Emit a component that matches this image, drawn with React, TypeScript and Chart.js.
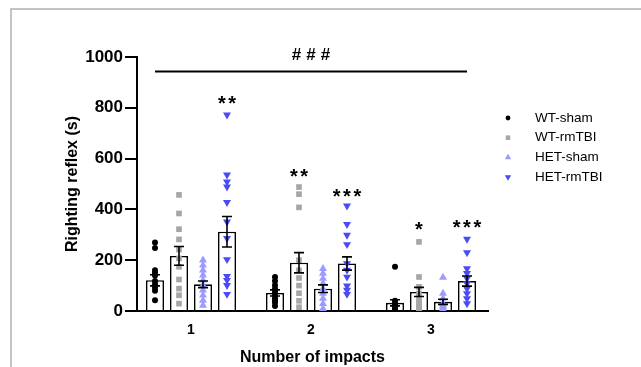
import React, { useEffect, useRef } from "react";
import { Chart, registerables } from "chart.js";

Chart.register(...registerables);

// ---------- data ----------
const groupLabels = [1, 2, 3];
const seriesNames = ["WT-sham", "WT-rmTBI", "HET-sham", "HET-rmTBI"];
const seriesColors = ["#000000", "#a6a6a6", "#9a9aff", "#4b4bf5"];

const wtShamMean = [121, 71, 32];
const wtRmMean = [217, 190, 75];
const hetShamMean = [105, 88, 36];
const hetRmMean = [312, 187, 118];

const wtShamSem = [22, 12, 12];
const wtRmSem = [37, 40, 18];
const hetShamSem = [13, 15, 10];
const hetRmSem = [60, 26, 20];

const wtShamPoints = [
  [270, 248, 160, 150, 140, 118, 105, 92, 80, 42],
  [134, 118, 101, 88, 75, 62, 50, 40, 33, 20],
  [174, 40, 30, 25, 18, 12, 6, 3],
];
const wtRmPoints = [
  [457, 384, 322, 282, 242, 207, 174, 124, 88, 62, 29],
  [488, 460, 408, 200, 160, 130, 100, 70, 40, 15],
  [272, 134, 95, 69, 50, 35, 29, 16, 8, 3],
];
const hetShamPoints = [
  [200, 180, 161, 141, 121, 101, 82, 62, 42, 22],
  [167, 148, 128, 108, 88, 69, 49, 29, 9],
  [132, 69, 49, 29, 22, 16, 10, 3],
];
const hetRmPoints = [
  [772, 536, 509, 489, 428, 351, 286, 203, 137, 121, 101, 66],
  [414, 341, 299, 262, 187, 161, 134, 99, 82, 66],
  [283, 230, 167, 148, 128, 108, 88, 69, 49, 29],
];

const yTicks = [0, 200, 400, 600, 800, 1000];

// significance annotations: group index, series index, text, value (ink centre)
const sigGroups = [0, 1, 1, 2, 2];
const sigSeries = [3, 1, 3, 1, 3];
const sigTexts = ["**", "**", "***", "*", "***"];
const sigValues = [838, 549, 472, 339, 347];

const hashText = "###";
const hashValue = 1011;
const hashLineValue = 943;

// ---------- helpers ----------
const means = [wtShamMean, wtRmMean, hetShamMean, hetRmMean];
const sems = [wtShamSem, wtRmSem, hetShamSem, hetRmSem];
const points = [wtShamPoints, wtRmPoints, hetShamPoints, hetRmPoints];
const seriesOffsets = [-0.3, -0.1, 0.1, 0.3];
const pointStyles = ["circle", "rect", "triangle", "triangle"];
const pointRadii = [3, 4, 4.6, 4.6];
const pointRotations = [0, 0, 0, 180];

const FONT = 'Arial, "Liberation Sans", Helvetica, sans-serif';

function drawSpaced(ctx, text, cx, baseY, pitch) {
  const n = text.length;
  for (let i = 0; i < n; i++) {
    ctx.fillText(text[i], cx + (i - (n - 1) / 2) * pitch, baseY);
  }
}

function drawMarker(ctx, style, x, y, r, rot, color) {
  ctx.save();
  ctx.fillStyle = color;
  ctx.beginPath();
  if (style === "circle") {
    ctx.arc(x, y, r, 0, Math.PI * 2);
  } else if (style === "rect") {
    const s = Math.SQRT1_2 * r;
    ctx.rect(x - s, y - s, 2 * s, 2 * s);
  } else {
    let rad = (rot * Math.PI) / 180;
    for (let k = 0; k < 3; k++) {
      const px = x + Math.sin(rad) * r;
      const py = y - Math.cos(rad) * r;
      if (k === 0) ctx.moveTo(px, py);
      else ctx.lineTo(px, py);
      rad += (2 * Math.PI) / 3;
    }
    ctx.closePath();
  }
  ctx.fill();
  ctx.restore();
}

const decorPlugin = {
  id: "decor",
  beforeDraw(chart) {
    const ctx = chart.ctx;
    ctx.save();
    ctx.strokeStyle = "#b0b0b0";
    ctx.lineWidth = 1.5;
    ctx.beginPath();
    ctx.moveTo(11, chart.height);
    ctx.lineTo(11, 9);
    ctx.lineTo(chart.width, 9);
    ctx.stroke();
    ctx.restore();
  },
  afterDatasetsDraw(chart) {
    const ctx = chart.ctx;
    const ys = chart.scales.y;
    // error bars
    ctx.save();
    ctx.strokeStyle = "#000";
    ctx.lineWidth = 1.6;
    for (let s = 0; s < 4; s++) {
      const meta = chart.getDatasetMeta(s);
      meta.data.forEach((el, g) => {
        const m = means[s][g];
        const e = sems[s][g];
        const yTop = ys.getPixelForValue(m + e);
        const yBot = ys.getPixelForValue(Math.max(0, m - e));
        const x = el.x;
        ctx.beginPath();
        ctx.moveTo(x, yTop);
        ctx.lineTo(x, yBot);
        ctx.moveTo(x - 5, yTop);
        ctx.lineTo(x + 5, yTop);
        ctx.moveTo(x - 5, yBot);
        ctx.lineTo(x + 5, yBot);
        ctx.stroke();
      });
    }
    ctx.restore();

    // significance stars
    ctx.save();
    ctx.fillStyle = "#000";
    ctx.textAlign = "center";
    ctx.textBaseline = "alphabetic";
    ctx.font = `bold 20px ${FONT}`;
    for (let i = 0; i < sigTexts.length; i++) {
      const el = chart.getDatasetMeta(sigSeries[i]).data[sigGroups[i]];
      const cy = ys.getPixelForValue(sigValues[i]);
      drawSpaced(ctx, sigTexts[i], el.x, cy + 0.58 * 20, 10.4);
    }
    // ### and line
    const x0 = chart.getDatasetMeta(0).data[0].x;
    const x1 = chart.getDatasetMeta(3).data[2].x;
    const ly = ys.getPixelForValue(hashLineValue);
    ctx.strokeStyle = "#000";
    ctx.lineWidth = 2;
    ctx.beginPath();
    ctx.moveTo(x0, ly);
    ctx.lineTo(x1, ly);
    ctx.stroke();
    ctx.font = `bold 17px ${FONT}`;
    const hy = ys.getPixelForValue(hashValue);
    drawSpaced(ctx, hashText, (x0 + x1) / 2, hy + 0.36 * 17, 14.5);
    ctx.restore();

    // legend
    ctx.save();
    const ca = chart.chartArea;
    const lx = ca.right + 20;
    const tx = ca.right + 47;
    const ly0 = ca.top + 61;
    ctx.font = `13.5px ${FONT}`;
    ctx.fillStyle = "#000";
    ctx.textAlign = "left";
    ctx.textBaseline = "middle";
    for (let s = 0; s < 4; s++) {
      const yy = ly0 + s * 19.7;
      drawMarker(ctx, pointStyles[s], lx, yy, pointRadii[s] * 0.8, pointRotations[s], seriesColors[s]);
      ctx.fillStyle = "#000";
      ctx.fillText(seriesNames[s], tx, yy);
    }
    ctx.restore();
  },
};

export default function App() {
  const ref = useRef(null);

  useEffect(() => {
    const barSets = seriesNames.map((name, s) => ({
      type: "bar",
      label: name,
      data: groupLabels.map((g, gi) => ({ x: g, y: means[s][gi] })),
      backgroundColor: "#ffffff",
      borderColor: "#000000",
      borderWidth: 1.6,
      borderSkipped: "bottom",
      categoryPercentage: 0.8,
      barPercentage: 0.75,
      order: 3,
    }));
    const scatterSets = seriesNames.map((name, s) => ({
      type: "scatter",
      label: name + " points",
      data: groupLabels.flatMap((g, gi) =>
        points[s][gi].map((v) => ({ x: g + seriesOffsets[s], y: v }))
      ),
      pointStyle: pointStyles[s],
      pointRadius: pointRadii[s],
      pointRotation: pointRotations[s],
      pointBackgroundColor: seriesColors[s],
      pointBorderWidth: 0,
      showLine: false,
      order: 1,
    }));

    const chart = new Chart(ref.current, {
      type: "bar",
      data: { datasets: [...barSets, ...scatterSets] },
      plugins: [decorPlugin],
      options: {
        responsive: false,
        animation: false,
        devicePixelRatio: 1,
        layout: { padding: { left: 63, top: 57, right: 153, bottom: 0 } },
        plugins: {
          legend: { display: false },
          tooltip: { enabled: false },
        },
        scales: {
          x: {
            type: "linear",
            min: 0.55,
            max: 3.475,
            offset: false,
            afterBuildTicks: (scale) => {
              scale.ticks = groupLabels.map((v) => ({ value: v }));
            },
            afterFit: (scale) => {
              scale.height = 56;
            },
            grid: { display: false, drawTicks: false, offset: false },
            border: { display: true, color: "#000", width: 2 },
            ticks: {
              color: "#000",
              font: { family: FONT, size: 14, weight: "bold" },
              padding: 11,
              maxRotation: 0,
              callback: (v) => String(v),
            },
            title: {
              display: true,
              text: "Number of impacts",
              color: "#000",
              font: { family: FONT, size: 16, weight: "bold" },
              padding: { top: 0, bottom: 0 },
            },
          },
          y: {
            min: 0,
            max: 1000,
            afterBuildTicks: (scale) => {
              scale.ticks = yTicks.map((v) => ({ value: v }));
            },
            afterFit: (scale) => {
              scale.width = 74;
            },
            grid: {
              drawOnChartArea: false,
              drawTicks: true,
              tickLength: 12,
              color: "#000",
              lineWidth: 2,
            },
            border: { display: true, color: "#000", width: 2 },
            ticks: {
              color: "#000",
              font: { family: FONT, size: 17, weight: "bold" },
              padding: 2,
              callback: (v) => String(v),
            },
            title: {
              display: true,
              text: "Righting reflex (s)",
              color: "#000",
              font: { family: FONT, size: 16, weight: "bold" },
              padding: { top: 0, bottom: 0 },
            },
          },
        },
      },
    });
    return () => chart.destroy();
  }, []);

  return (
    <div style={{ position: "fixed", left: 0, top: 0, width: 641, height: 367, background: "#fff" }}>
      <canvas ref={ref} width={641} height={367} style={{ display: "block" }} />
    </div>
  );
}
